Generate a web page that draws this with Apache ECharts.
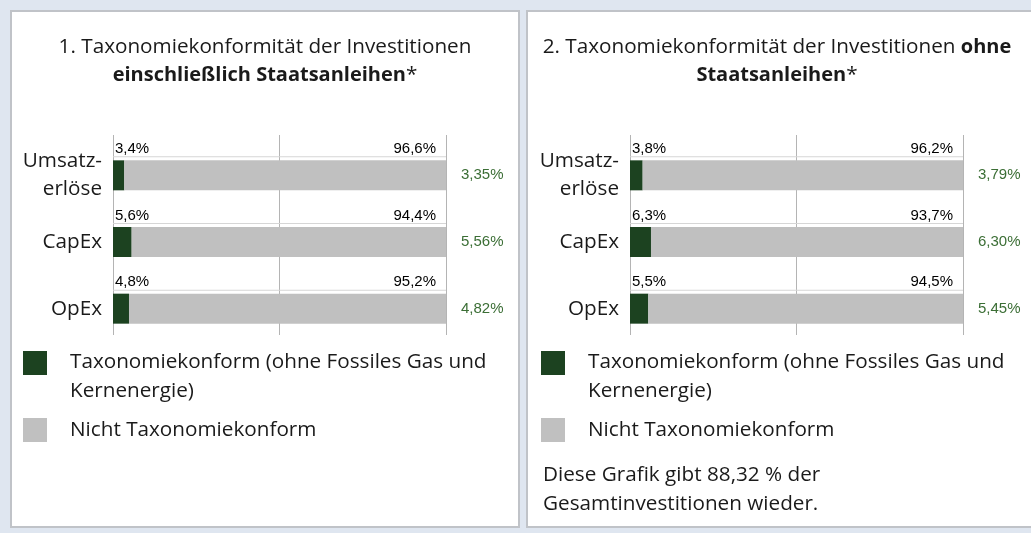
<!DOCTYPE html>
<html>
<head>
<meta charset="utf-8">
<script src="https://cdn.jsdelivr.net/npm/echarts@6/dist/echarts.min.js"></script>
<style>
  html, body { margin: 0; padding: 0; background: #dfe6f0; }
  #chart { width: 1031px; height: 533px; }
</style>
</head>
<body>
<div id="chart"></div>
<script>
// categories (top to bottom)
const categories = ["Umsatz-\nerlöse", "CapEx", "OpEx"];

// 1. incl. sovereign bonds
const conformIncl = [3.4, 5.6, 4.8];
const notConformIncl = [96.6, 94.4, 95.2];
const exactIncl = [3.35, 5.56, 4.82];

// 2. excl. sovereign bonds
const conformExcl = [3.8, 6.3, 5.5];
const notConformExcl = [96.2, 93.7, 94.5];
const exactExcl = [3.79, 6.3, 5.45];

const seriesNames = ["Taxonomiekonform (ohne Fossiles Gas und Kernenergie)", "Nicht Taxonomiekonform"];

const colors = {
  conform: "#1c4220",
  notConform: "#c0c0c0",
  grid: "#b4b4b4",
  rule: "#d6d6d6",
  text: "#1a1a1a",
  green: "#3b6e35",
  panelBorder: "#c0c3c8",
};

const FONT = "'Open Sans', sans-serif";
const LABEL_FONT = "'Liberation Sans', Arial, sans-serif";
const FS = 20.7;
const GRID_W = 333;

const fmt1 = (v) => v.toFixed(1).replace(".", ",") + "%";
const fmt2 = (v) => v.toFixed(2).replace(".", ",") + "%";

const chart = echarts.init(document.getElementById("chart"), null, { renderer: "canvas" });

// one panel = grid with gridlines + grid with bars
function panelAxes(left, idx) {
  const lineGrid = { left: left, top: 135, width: GRID_W, height: 200 };
  const barGrid = { left: left, top: 142, width: GRID_W, height: 200 };
  const xAxes = [
    {
      gridIndex: idx * 2, type: "value", min: 0, max: 100, interval: 50,
      axisLabel: { show: false }, axisLine: { show: false }, axisTick: { show: false },
      splitLine: { show: true, lineStyle: { color: colors.grid, width: 1 } },
    },
    { gridIndex: idx * 2 + 1, type: "value", min: 0, max: 100, show: false },
  ];
  return { grids: [lineGrid, barGrid], xAxes };
}

function panelYAxes(idx, exact) {
  return [
    { gridIndex: idx * 2, type: "category", data: categories, inverse: true, show: false },
    {
      gridIndex: idx * 2 + 1, type: "category", data: categories, inverse: true, position: "left",
      axisLine: { show: false }, axisTick: { show: false }, splitLine: { show: false },
      axisLabel: { color: colors.text, fontFamily: FONT, fontSize: FS, lineHeight: 28, margin: 11 },
    },
    {
      gridIndex: idx * 2 + 1, type: "category", data: exact.map(fmt2), inverse: true, position: "right",
      axisLine: { show: false }, axisTick: { show: false }, splitLine: { show: false },
      axisLabel: { color: colors.green, fontFamily: LABEL_FONT, fontSize: 15, margin: 15 },
    },
  ];
}

function panelSeries(idx, conform, notConform) {
  return [
    {
      name: seriesNames[0], type: "bar", stack: "p" + idx,
      xAxisIndex: idx * 2 + 1, yAxisIndex: idx * 3 + 1,
      barWidth: 30, data: conform,
      itemStyle: { color: colors.conform },
      label: {
        show: true, position: [0, -3], align: "left", verticalAlign: "bottom",
        formatter: (p) => "{v|" + fmt1(p.value) + "}\n{l| }",
        rich: {
          v: { color: "#000", fontFamily: LABEL_FONT, fontSize: 15, lineHeight: 15, padding: [0, 0, 0, 2] },
          l: { width: GRID_W, height: 1, lineHeight: 1, fontSize: 1, backgroundColor: colors.rule },
        },
      },
    },
    {
      name: seriesNames[1], type: "bar", stack: "p" + idx,
      xAxisIndex: idx * 2 + 1, yAxisIndex: idx * 3 + 1,
      barWidth: 30, data: notConform,
      itemStyle: { color: colors.notConform },
      label: {
        show: true, position: ["100%", -4], offset: [-10, 0], align: "right", verticalAlign: "bottom",
        color: "#000", fontFamily: LABEL_FONT, fontSize: 15, lineHeight: 15,
        formatter: (p) => fmt1(p.value),
      },
    },
  ];
}

const p0 = panelAxes(113, 0);
const p1 = panelAxes(630, 1);

function legendGraphics(x0, textX) {
  return [
    { type: "rect", shape: { x: x0, y: 351, width: 24, height: 24 }, style: { fill: colors.conform } },
    {
      type: "text", x: textX, y: 348,
      style: { text: "Taxonomiekonform (ohne Fossiles Gas und\nKernenergie)", fontFamily: FONT, fontSize: FS, lineHeight: 29, fill: colors.text, verticalAlign: "top" },
    },
    { type: "rect", shape: { x: x0, y: 418, width: 24, height: 24 }, style: { fill: colors.notConform } },
    {
      type: "text", x: textX, y: 415.5,
      style: { text: "Nicht Taxonomiekonform", fontFamily: FONT, fontSize: FS, lineHeight: 29, fill: colors.text, verticalAlign: "top" },
    },
  ];
}

const titleStyle = {
  color: colors.text, fontFamily: FONT, fontSize: FS, fontWeight: "normal", lineHeight: 28,
  rich: { b: { fontFamily: FONT, fontSize: 20, fontWeight: "bold", lineHeight: 28, color: colors.text } },
};

const options = {
  backgroundColor: "#dfe6f0",
  animation: false,
  title: [
    {
      text: "1. Taxonomiekonformität der Investitionen\n{b|einschließlich Staatsanleihen}*",
      left: 265, top: 33, textAlign: "center", padding: 0, textStyle: titleStyle,
    },
    {
      text: "2. Taxonomiekonformität der Investitionen {b|ohne}\n{b|Staatsanleihen}*",
      left: 777, top: 33, textAlign: "center", padding: 0, textStyle: titleStyle,
    },
  ],
  graphic: [
    { type: "rect", z: -10, shape: { x: 11, y: 11, width: 508, height: 516 }, style: { fill: "#fff", stroke: colors.panelBorder, lineWidth: 2 } },
    { type: "rect", z: -10, shape: { x: 527, y: 11, width: 510, height: 516 }, style: { fill: "#fff", stroke: colors.panelBorder, lineWidth: 2 } },
    ...legendGraphics(23, 70),
    ...legendGraphics(541, 588),
    {
      type: "text", x: 543, y: 460.5,
      style: { text: "Diese Grafik gibt 88,32 % der\nGesamtinvestitionen wieder.", fontFamily: FONT, fontSize: FS, lineHeight: 29, fill: colors.text, verticalAlign: "top" },
    },
  ],
  grid: [...p0.grids, ...p1.grids],
  xAxis: [...p0.xAxes, ...p1.xAxes],
  yAxis: [...panelYAxes(0, exactIncl), ...panelYAxes(1, exactExcl)],
  series: [
    ...panelSeries(0, conformIncl, notConformIncl),
    ...panelSeries(1, conformExcl, notConformExcl),
  ],
};

chart.setOption(options);
</script>
</body>
</html>
